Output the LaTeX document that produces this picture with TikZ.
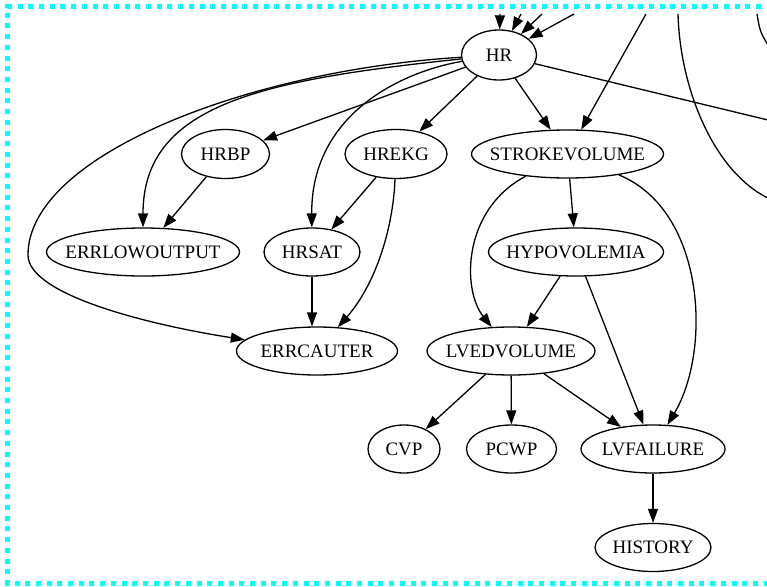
\documentclass[tikz,border=0pt]{standalone}
\usepackage{fontspec}
\setmainfont{Liberation Serif}
\usetikzlibrary{shapes.geometric,arrows.meta}
% centred label with no size of its own, so the ellipse size is set by the style
\newcommand{\gvlabel}[1]{\makebox[0pt]{\raisebox{-0.33em}[0pt][0pt]{#1}}}
\definecolor{frame}{RGB}{0,255,255}
\begin{document}
\begin{tikzpicture}[x=1pt,y=-1pt,
  gvnode/.style 2 args={ellipse, draw, line width=1.3pt, inner sep=0pt,
    minimum width=#1pt, minimum height=#2pt,
    font=\fontsize{19}{22}\selectfont},
  gvline/.style={line width=1.3pt},
  gvedge/.style={gvline, -{Triangle[length=14pt,width=10pt]}},
  frameline/.style={draw=frame, line width=5pt, dash pattern=on 5pt off 5.7pt}]
\useasboundingbox (0,0) rectangle (767,586);
\clip (0,0) rectangle (767,586);

% dotted frame, its right side lies past the page edge
\draw[frameline] (900,7) -- (7,7) -- (7,583) -- (900,583);

% nodes
\node[gvnode={75}{50}]  (HR)    at (499,55)    {\gvlabel{HR}};
\node[gvnode={88}{49}]  (HRBP)  at (225.5,154) {\gvlabel{HRBP}};
\node[gvnode={102}{49}] (HREKG) at (396,154)   {\gvlabel{HREKG}};
\node[gvnode={192}{48}] (SV)    at (567.5,154) {\gvlabel{STROKEVOLUME}};
\node[gvnode={193}{48}] (ELO)   at (143,252)   {\gvlabel{ERRLOWOUTPUT}};
\node[gvnode={96}{48}]  (HRSAT) at (312,252)   {\gvlabel{HRSAT}};
\node[gvnode={175}{48}] (HYPO)  at (576,252)   {\gvlabel{HYPOVOLEMIA}};
\node[gvnode={161}{48}] (ECA)   at (317,351)   {\gvlabel{ERRCAUTER}};
\node[gvnode={168}{48}] (LVED)  at (511,351)   {\gvlabel{LVEDVOLUME}};
\node[gvnode={72}{48}]  (CVP)   at (404,449)   {\gvlabel{CVP}};
\node[gvnode={90}{48}]  (PCWP)  at (511.5,449) {\gvlabel{PCWP}};
\node[gvnode={144}{48}] (LVF)   at (653,449)   {\gvlabel{LVFAILURE}};
\node[gvnode={116}{48}] (HIST)  at (653,547.5) {\gvlabel{HISTORY}};

% loose ends of connectors that run off the page
\coordinate (in1) at (500,14);
\coordinate (in2) at (521,14);
\coordinate (in3) at (542,14);
\coordinate (in4) at (574,14);
\coordinate (in5) at (646,14);
\coordinate (out1) at (770,120.5);
\coordinate (r1a) at (678,14);
\coordinate (r1b) at (772,200);
\coordinate (r2a) at (757,14);
\coordinate (r2b) at (772,52);

% connectors coming in from above
\draw[gvedge] (in1) -- (HR);
\draw[gvedge] (in2) -- (HR);
\draw[gvedge] (in3) -- (HR);
\draw[gvedge] (in4) -- (HR);
\draw[gvedge] (in5) -- (SV);

% connectors leaving to the right
\draw[gvline] (HR) -- (out1);
\draw[gvline] (r1a) .. controls (680,90) and (715,175) .. (r1b);
\draw[gvline] (r2a) .. controls (760,32) .. (r2b);

% HR and its children
\draw[gvedge] (HR) -- (SV);
\draw[gvedge] (HR) -- (HREKG);
\draw[gvedge] (HR) -- (HRBP);
\draw[gvedge] (HR) .. controls (400,72) and (311,115) .. (HRSAT);
\draw[gvedge] (HR) .. controls (260,80) and (143,105) .. (ELO);
\draw[gvline] (HR) .. controls (250,70) and (28,155) .. (28,255);
\draw[gvedge] (28,255) .. controls (28,295) and (150,325) .. (ECA);

% middle rows
\draw[gvedge] (HRBP) -- (ELO);
\draw[gvedge] (HREKG) -- (HRSAT);
\draw[gvedge] (HREKG) .. controls (393,230) and (375,285) .. (ECA);
\draw[gvedge] (HRSAT) -- (HRSAT |- ECA.north);
\draw[gvedge] (SV) -- (HYPO);
\draw[gvedge] (SV) .. controls (462,210) and (462,290) .. (LVED);
\draw[gvedge] (SV) .. controls (705,210) and (712,350) .. (LVF);
\draw[gvedge] (HYPO) -- (LVED);
\draw[gvedge] (HYPO) -- (LVF);

% bottom rows
\draw[gvedge] (LVED) -- (CVP);
\draw[gvedge] (LVED) -- (PCWP);
\draw[gvedge] (LVED) -- (LVF);
\draw[gvedge] (LVF) -- (HIST);
\end{tikzpicture}
\end{document}
